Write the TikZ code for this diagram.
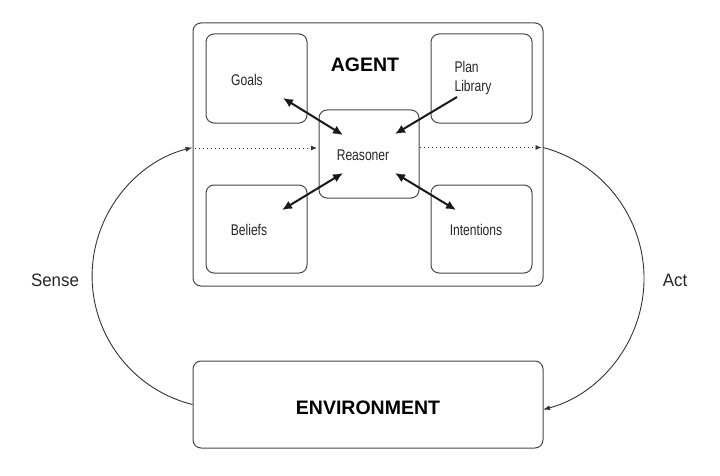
\documentclass[tikz,border=0pt]{standalone}
\usepackage{fontspec}
\setmainfont{Liberation Sans}
\newfontfamily\narrowfont[FakeStretch=0.78]{Liberation Sans}
\newfontfamily\sidefont[FakeStretch=0.94]{Liberation Sans}
\usetikzlibrary{arrows.meta,calc}
\begin{document}
\begin{tikzpicture}[x=1pt,y=1pt,
  box/.style={draw=black!72, line width=1pt, rounded corners=8pt, inner sep=0pt},
  lbl/.style={font=\narrowfont\fontsize{15.5}{19}\selectfont, text=black!85, inner sep=0pt, align=left},
  title/.style={font=\bfseries\fontsize{19.5}{23}\selectfont, text=black, inner sep=0pt},
  side/.style={font=\sidefont\fontsize{18}{21}\selectfont, text=black!85, inner sep=0pt},
  thick arrow/.style={line width=2pt, draw=black!90},
  tipbig/.tip={Latex[length=10pt,width=9pt]},
  dotline/.style={line width=0.8pt, draw=black!80, dash pattern=on 1pt off 3pt, -{Latex[length=6pt,width=5pt]}},
  loop/.style={line width=0.9pt, draw=black!80, -{Latex[length=7pt,width=5pt]}}]
\useasboundingbox (0,0) rectangle (720,475);

% boxes
\node[box, minimum width=350pt, minimum height=263pt] (agent) at (368,320.5) {};
\node[box, minimum width=101pt, minimum height=89pt] (goals) at (256.5,396.5) {};
\node[box, minimum width=101pt, minimum height=89pt] (plan) at (481.5,396.5) {};
\node[box, minimum width=101pt, minimum height=88pt] (beliefs) at (256.5,246) {};
\node[box, minimum width=101pt, minimum height=88pt] (intentions) at (481.5,246) {};
\node[box, minimum width=100pt, minimum height=88pt] (reasoner) at (369,321) {};
\node[box, minimum width=350pt, minimum height=87pt] (env) at (368,70.5) {};

% labels
\node[title] (agentT) at (365,410) {AGENT};
\node[title] (envT) at (368,67) {ENVIRONMENT};
\node[lbl] (goalsT) at ([xshift=-9.5pt,yshift=-1.5pt]goals.center) {Goals};
\node[lbl] (planT) at ([xshift=-8.5pt,yshift=1pt]plan.center) {Plan\\Library};
\node[lbl] (beliefsT) at ([xshift=-7.5pt,yshift=-1pt]beliefs.center) {Beliefs};
\node[lbl] (intentionsT) at ([xshift=-5.5pt,yshift=-1pt]intentions.center) {Intentions};
\node[lbl] (reasonerT) at ([xshift=-6pt,yshift=-1pt]reasoner.center) {Reasoner};
\node[side] (sense) at (55,195) {Sense};
\node[side] (act) at (675,195) {Act};

% thick arrows between components and reasoner
\draw[thick arrow, tipbig-tipbig] ($(goals.center)+(26.5,-19.5)$) -- ($(reasoner.center)+(-26,19)$);
\draw[thick arrow, -tipbig] ($(plan.center)+(-24.5,-18.5)$) -- ($(reasoner.center)+(26,20)$);
\draw[thick arrow, tipbig-tipbig] ($(beliefs.center)+(25.5,19)$) -- ($(reasoner.center)+(-26,-19)$);
\draw[thick arrow, tipbig-tipbig] ($(reasoner.center)+(26,-19)$) -- ($(intentions.center)+(-25.5,19)$);

% sensing / acting
\coordinate (senseend) at (195,327);
\coordinate (actstart) at (543,327.5);
\draw[dotline] (senseend) -- ($(reasoner.west)+(-1.5,6)$);
\draw[dotline] ($(reasoner.east)+(0,6.5)$) -- ([xshift=-1.5pt]actstart);
\draw[loop] (env.west) arc[start angle=256, end angle=104, radius=132.4];
\draw[loop] (actstart) arc[start angle=75.25, end angle=-75.25, radius=135.5];
\end{tikzpicture}
\end{document}
